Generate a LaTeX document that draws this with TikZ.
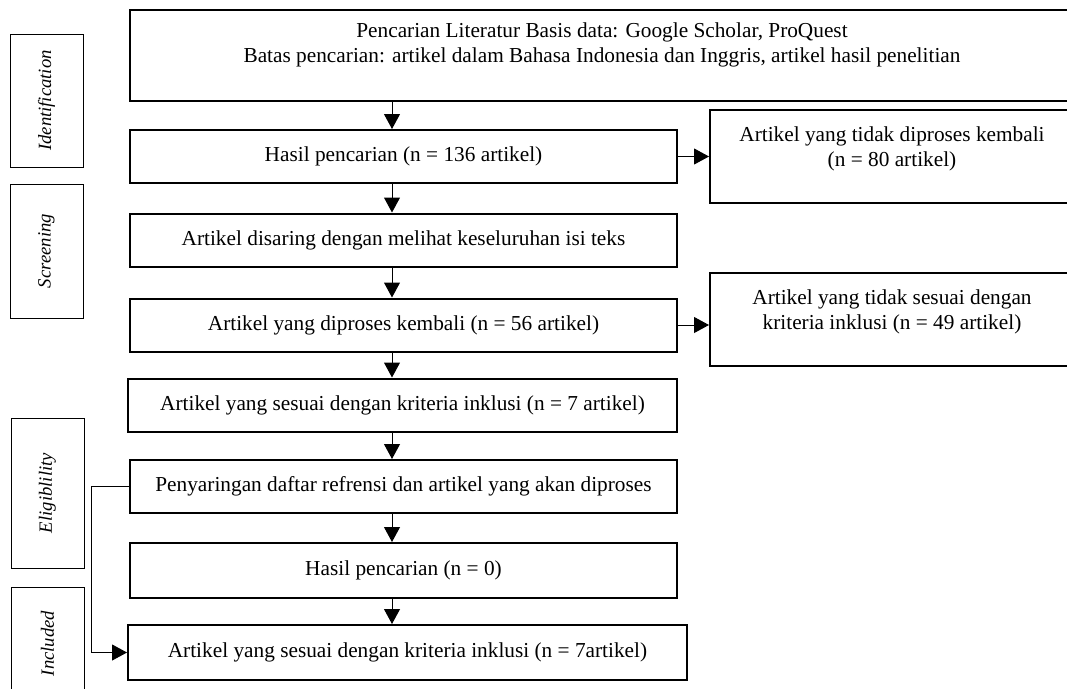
\documentclass[tikz,border=0pt]{standalone}
\usepackage{fontspec}
\setmainfont{Liberation Serif}
\usetikzlibrary{arrows.meta}
\begin{document}
\begin{tikzpicture}[x=1pt, y=-1pt,
  box/.style={draw, line width=2pt, minimum width=547pt, minimum height=53pt,
    align=center, font=\fontsize{21.3}{25}\selectfont},
  sidebox/.style={draw, line width=1pt, rotate=90, minimum height=73pt,
    font=\fontsize{18.7}{22}\selectfont\itshape},
  arr/.style={line width=1pt, -{Triangle[width=16pt,length=15pt]}}]
\useasboundingbox (0,0) rectangle (1067,688);
\clip (0,0) rectangle (1067,688);
% phases
\node[sidebox, minimum width=133pt] (ident) at (46.5,100.5) {Identification};
\node[sidebox, minimum width=134pt] (screen) at (46.5,251) {Screening};
\node[sidebox, minimum width=150pt] (elig) at (47.5,493) {Eligiblility};
\node[sidebox, minimum width=113pt] (incl) at (47.5,643.5) {Included};
% main column
\node[box, minimum width=944pt, minimum height=91pt, text depth=25pt] (search) at (602,55.5)
  {Pencarian Literatur Basis data: Google Scholar, ProQuest\\
   Batas pencarian: artikel dalam Bahasa Indonesia dan Inggris, artikel hasil penelitian};
\node[box] (hasil136) at (403.5,156.5) {Hasil pencarian (n = 136 artikel)};
\node[box] (disaring) at (403.5,240) {Artikel disaring dengan melihat keseluruhan isi teks};
\node[box] (diproses56) at (403.5,325) {Artikel yang diproses kembali (n = 56 artikel)};
\node[box, minimum width=549pt] (sesuai7) at (402.5,405) {Artikel yang sesuai dengan kriteria inklusi (n = 7 artikel)};
\node[box] (penyaring) at (403.5,486.5) {Penyaringan daftar refrensi dan artikel yang akan diproses};
\node[box, minimum height=55pt] (hasil0) at (403.5,570.5) {Hasil pencarian (n = 0)};
\node[box, minimum width=559pt, minimum height=55pt] (final) at (407.5,652.5) {Artikel yang sesuai dengan kriteria inklusi (n = 7artikel)};
% excluded
\node[box, minimum width=364pt, minimum height=93pt, text depth=19pt] (tidak80) at (892,156.5)
  {Artikel yang tidak diproses kembali\\(n = 80 artikel)};
\node[box, minimum width=364pt, minimum height=93pt, text depth=19pt] (tidak49) at (892,319.5)
  {Artikel yang tidak sesuai dengan\\kriteria inklusi (n = 49 artikel)};
% arrows
\coordinate (mid) at (392,0);
\draw[arr] (search.south -| mid) -- (hasil136.north -| mid);
\draw[arr] (hasil136.south -| mid) -- (disaring.north -| mid);
\draw[arr] (disaring.south -| mid) -- (diproses56.north -| mid);
\draw[arr] (diproses56.south -| mid) -- (sesuai7.north -| mid);
\draw[arr] (sesuai7.south -| mid) -- (penyaring.north -| mid);
\draw[arr] (penyaring.south -| mid) -- (hasil0.north -| mid);
\draw[arr] (hasil0.south -| mid) -- (final.north -| mid);
\draw[arr] (hasil136.east) -- (hasil136.east -| tidak80.west);
\draw[arr] (diproses56.east) -- (diproses56.east -| tidak49.west);
\draw[arr] (penyaring.west) -- ++(-38,0) |- (final.west);
\end{tikzpicture}
\end{document}
